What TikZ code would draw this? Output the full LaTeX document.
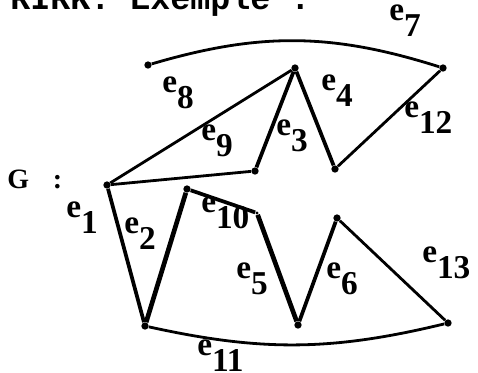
\documentclass[tikz,border=0pt]{standalone}
\usepackage{fontspec}
\setmainfont{Liberation Serif}
\newfontfamily\titlefont{Liberation Mono}
\begin{document}
\begin{tikzpicture}[x=0.75pt,y=-0.75pt,
  dot/.style={circle,fill=black,inner sep=0pt,minimum size=5.5pt},
  thinl/.style={line width=2.1pt},
  medl/.style={line width=2.8pt},
  thickl/.style={line width=3.5pt},
  lab/.style={anchor=base west,inner sep=0pt,font=\fontsize{25}{25}\selectfont\bfseries}]
\clip (0,0) rectangle (478,372);
\useasboundingbox (0,0) rectangle (478,372);
\newcommand\elab[1]{e\raisebox{-0.5em}{#1}}
% title (cut off at top)
\node[anchor=base west,inner sep=0pt,font=\fontsize{25}{25}\selectfont\titlefont\bfseries] (title) at (10,9) {RIRK. Exemple :};
% vertices
\node[dot] (A) at (148,65) {};
\node[dot] (B) at (443,68) {};
\node[dot] (C) at (295,68) {};
\node[dot] (D) at (107,185) {};
\node[dot] (E) at (255,171) {};
\node[dot] (F) at (335,169) {};
\node[dot] (H) at (187,189) {};
\node[dot,minimum size=2.5pt] (I) at (257,213) {};
\node[dot] (J) at (298,325) {};
\node[dot] (K) at (337,218) {};
\node[dot] (L) at (448,323) {};
\node[dot] (M) at (145,326) {};
% edges
\draw[thinl] (A) to[bend left=17] (B);
\draw[thinl] (D) -- (C);
\draw[thinl] (D) -- (E);
\draw[medl] (E) -- (C);
\draw[medl] (C) -- (F);
\draw[thinl] (F) -- (B);
\draw[medl] (D) -- (M);
\draw[thickl] (M) -- (H);
\draw[medl] (H) -- (I);
\draw[thickl] (I) -- (J);
\draw[medl] (J) -- (K);
\draw[thinl] (K) -- (L);
\draw[thinl] (M) to[bend right=13] (L);
% labels
\node[lab] (l7) at (389,20) {\elab{7}};
\node[lab] (l8) at (162,92) {\elab{8}};
\node[lab] (l9) at (201,140) {\elab{9}};
\node[lab] (l3) at (276,135) {\elab{3}};
\node[lab] (l4) at (321,90) {\elab{4}};
\node[lab] (l12) at (404,117) {\elab{12}};
\node[lab] (l1) at (66,217) {\elab{1}};
\node[lab] (l2) at (124,233) {\elab{2}};
\node[lab] (l10) at (201,212) {\elab{10}};
\node[lab] (l5) at (236,278) {\elab{5}};
\node[lab] (l6) at (326,278) {\elab{6}};
\node[lab] (l13) at (422,262) {\elab{13}};
\node[lab] (l11) at (197,355) {\elab{11}};
\node[anchor=base west,inner sep=0pt,font=\fontsize{21}{21}\selectfont\bfseries] (G) at (7,188) {G\hspace{0.85em}:};
\end{tikzpicture}
\end{document}
